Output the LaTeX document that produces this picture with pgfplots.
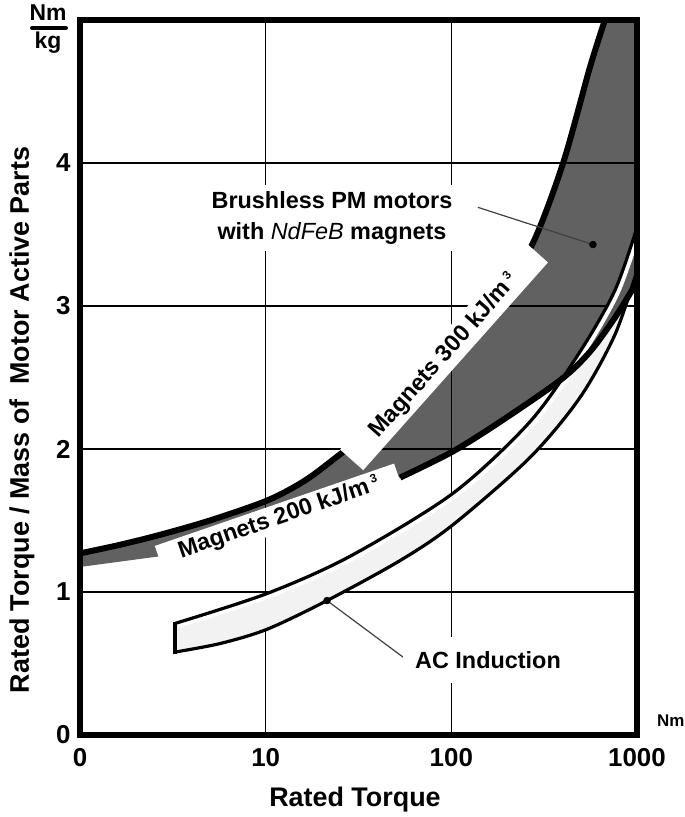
\documentclass[border=0pt]{standalone}
\usepackage{fontspec}
\setmainfont{Liberation Sans}
\usepackage{pgfplots}
\usepackage{pgfplotstable}
\pgfplotsset{compat=1.18}

\definecolor{bandfill}{gray}{0.95}
\newcommand{\fs}[1]{\fontsize{#1}{#1}\selectfont\bfseries}

% upper edge of the brushless PM area
\pgfplotstableread{
x y
1 1.27
1.64 1.33
2.7 1.40
5.0 1.50
10.2 1.64
16.3 1.78
25 1.96
53 2.29
102 2.66
183 3.09
275 3.44
400 4.00
558 4.67
672 5.00
}\pmupper

% lower edge of the PM area (visible part)
\pgfplotstableread{
x y
53 1.80
101 1.98
183 2.19
385 2.48
558 2.68
780 2.94
1000 3.17
}\pmlower

% AC induction band
\pgfplotstableread{
x y
3.25 0.78
10.2 0.99
28.5 1.25
102 1.69
265 2.19
493 2.68
761 3.11
1000 3.55
}\acupper

\pgfplotstableread{
x y
3.25 0.58
5.7 0.64
10.2 0.74
21.4 0.94
53 1.22
102 1.47
265 1.94
493 2.36
761 2.80
1000 3.25
}\aclower

\begin{document}
\begin{tikzpicture}
\begin{axis}[
    at={(0,0)}, anchor=south west,
    scale only axis,
    width=557bp, height=715bp,
    xmode=log,
    xmin=1, xmax=1000, ymin=0, ymax=5,
    xtick={1,10,100,1000},
    xticklabels={0,10,100,1000},
    ytick={0,1,2,3,4},
    yticklabels={0,1,2,3,4},
    major tick length=0pt,
    minor tick num=0,
    grid=major,
    grid style={black, line width=1.2bp},
    axis line style={draw=none},
    tick label style={font=\fs{26}},
    xticklabel style={yshift=-10bp},
    yticklabel style={xshift=-6bp},
  ]
  % AC induction band
  \addplot[fill=bandfill, draw=none] coordinates {
    (3.25,0.78) (10.2,0.99) (28.5,1.25) (102,1.69) (265,2.19) (493,2.68) (761,3.11) (1000,3.55)
    (1000,3.25) (761,2.80) (493,2.36) (265,1.94) (102,1.47) (53,1.22) (21.4,0.94) (10.2,0.74) (5.7,0.64) (3.25,0.58)
  } -- cycle;

  % brushless PM area
  \addplot[fill=black, fill opacity=0.62, draw=none] coordinates {
    (1,1.27) (1.64,1.33) (2.7,1.40) (5.0,1.50) (10.2,1.64) (16.3,1.78) (25,1.96) (53,2.29)
    (102,2.66) (183,3.09) (275,3.44) (400,4.00) (558,4.67) (672,5.00) (1000,5.00)
    (1000,3.17) (780,2.94) (558,2.68) (385,2.48) (183,2.19) (101,1.98) (53,1.80)
    (25,1.66) (10.2,1.47) (2.7,1.25) (1,1.175)
  } -- cycle;

  % AC band outline
  \addplot[white, line width=5bp, smooth, xshift=2.5bp, yshift=-2bp] table {\acupper};
  \addplot[black, line width=3.2bp, smooth] table {\acupper};
  \addplot[black, line width=3.2bp, smooth] table {\aclower};
  \addplot[black, line width=3.2bp, line cap=rect] coordinates {(3.25,0.58) (3.25,0.78)};

  % PM area outline
  \addplot[black, line width=6bp, smooth] table {\pmupper};
  \addplot[black, line width=6bp, smooth] table {\pmlower};

  % leader lines and dots
  \addplot[black!75, line width=1.2bp] coordinates {(139,3.69) (579,3.43)};
  \addplot[black!75, line width=1.2bp] coordinates {(21.4,0.94) (54.9,0.545)};
  \addplot[only marks, mark=*, mark size=3.5bp, black] coordinates {(579,3.43) (21.4,0.94)};
\end{axis}

% frame
\draw[line width=6bp] (0,0) rectangle (557bp,715bp);

% labels on the curves
\node[fill=white, rotate=19, minimum width=253bp, minimum height=28bp, inner sep=0pt, font=\fs{23.5}]
  at (199bp,217bp) {Magnets 200 kJ/m\,{\fontsize{12}{12}\selectfont\raisebox{9bp}{3}}};
\node[fill=white, rotate=48.35, minimum width=278bp, minimum height=31bp, inner sep=0pt, font=\fs{23.5}]
  at (364bp,379bp) {Magnets 300 kJ/m\,{\fontsize{12}{12}\selectfont\raisebox{9bp}{3}}};

\node[fill=white, inner xsep=6bp, inner ysep=6bp, align=center,
      font=\fontsize{23.5}{32}\selectfont\bfseries]
  at (252bp,517bp) {Brushless PM motors\\with {\mdseries\itshape NdFeB} magnets};
\node[fill=white, inner xsep=6bp, inner ysep=14bp, font=\fs{23.5}]
  at (408bp,75bp) {AC Induction};

% axis titles and units
\node[font=\fs{27}] at (275bp,-65bp) {Rated Torque};
\node[font=\fs{27}, rotate=90] at (-58bp,315bp) {Rated Torque / Mass of \ Motor Active Parts};
\node[font=\fs{23}] at (-32bp,722bp) {Nm};
\draw[line width=4bp, line cap=round] (-48bp,707bp) -- (-14bp,707bp);
\node[font=\fs{23}] at (-32bp,692bp) {kg};
\node[font=\fs{17}, anchor=west, inner sep=0pt] at (577bp,14bp) {Nm};

\pgfresetboundingbox
\path (-80bp,-82bp) rectangle (605bp,735bp);
\end{tikzpicture}
\end{document}
